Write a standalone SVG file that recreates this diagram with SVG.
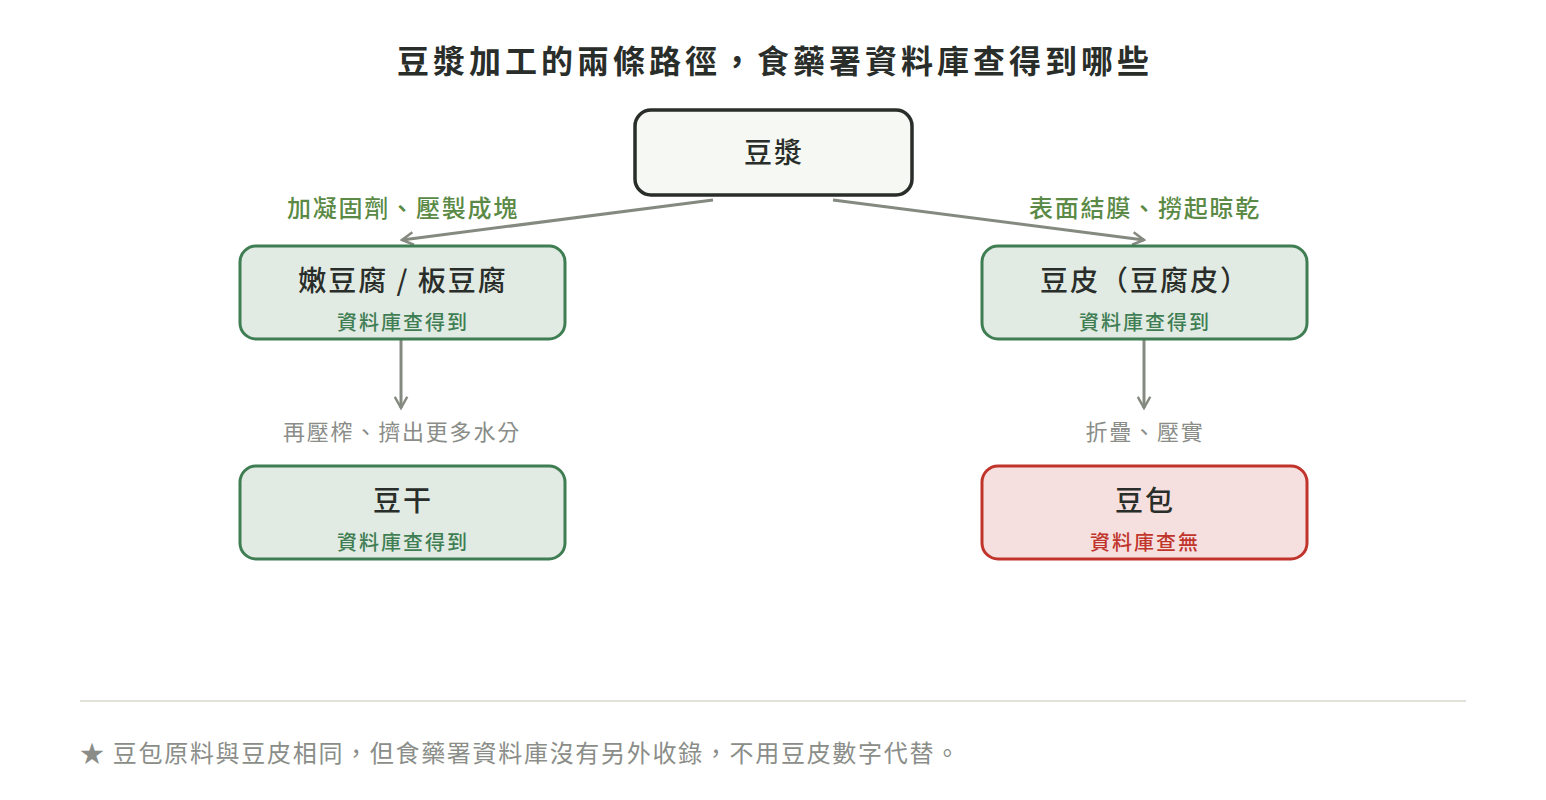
<svg xmlns="http://www.w3.org/2000/svg" width="1546" height="800" viewBox="0 0 1546 800">
<style>
text{font-family:"Noto Sans CJK TC","Noto Sans CJK SC",sans-serif;text-anchor:middle}
.t{font-size:32px;font-weight:700;fill:#2a2e2a;letter-spacing:4px}
.n{font-size:28px;font-weight:500;fill:#2a2e2a;letter-spacing:2px}
.s{font-size:20px;font-weight:500;letter-spacing:2px}
.g{fill:#3f7d53}
.r{fill:#c0342b}
.el{font-size:24px;font-weight:500;fill:#5a8a45;letter-spacing:1.8px}
.eg{font-size:22px;fill:#8a8d88;letter-spacing:1.8px}
.ok{fill:#e1ebe3;stroke:#3f7d53;stroke-width:3}
.no{fill:#f6e0df;stroke:#c0342b;stroke-width:3}
.c{stroke:#858a80;stroke-width:3;fill:none;marker-end:url(#a)}
</style>
<defs><marker id="a" viewBox="0 0 12 12" refX="10" refY="6" markerWidth="5" markerHeight="5" orient="auto" markerUnits="strokeWidth"><path d="M1,1 L10,6 L1,11" fill="none" stroke="#858a80" stroke-width="2"/></marker></defs>
<rect width="1546" height="800" fill="#fff"/>
<text class="t" x="775" y="73">豆漿加工的兩條路徑，食藥署資料庫查得到哪些</text>
<g id="connectors">
<line class="c" x1="713" y1="200" x2="402" y2="240"/>
<line class="c" x1="833" y1="200" x2="1144" y2="240"/>
<line class="c" x1="401" y1="340" x2="401" y2="408"/>
<line class="c" x1="1144" y1="340" x2="1144" y2="408"/>
<text class="el" x="403" y="217">加凝固劑、壓製成塊</text>
<text class="el" x="1145" y="217">表面結膜、撈起晾乾</text>
<text class="eg" x="402" y="440">再壓榨、擠出更多水分</text>
<text class="eg" x="1145" y="440">折疊、壓實</text>
</g>
<g id="soymilk"><rect x="635" y="110" width="277" height="85" rx="16" fill="#f6f8f3" stroke="#2a2e2a" stroke-width="3.5"/><text class="n" x="774" y="163">豆漿</text></g>
<g id="tofu"><rect class="ok" x="240" y="246" width="325" height="93" rx="16"/><text class="n" x="403" y="291">嫩豆腐 / 板豆腐</text><text class="s g" x="403" y="330">資料庫查得到</text></g>
<g id="skin"><rect class="ok" x="982" y="246" width="325" height="93" rx="16"/><text class="n" x="1145" y="291">豆皮（豆腐皮）</text><text class="s g" x="1145" y="330">資料庫查得到</text></g>
<g id="dried"><rect class="ok" x="240" y="466" width="325" height="93" rx="16"/><text class="n" x="403" y="511">豆干</text><text class="s g" x="403" y="550">資料庫查得到</text></g>
<g id="roll"><rect class="no" x="982" y="466" width="325" height="93" rx="16"/><text class="n" x="1145" y="511">豆包</text><text class="s r" x="1145" y="550">資料庫查無</text></g>
<line x1="80" y1="701" x2="1466" y2="701" stroke="#dfe2d8" stroke-width="2"/>
<text x="80" y="762" style="text-anchor:start;font-size:24px;fill:#8a8d88;letter-spacing:1.7px">★ 豆包原料與豆皮相同，但食藥署資料庫沒有另外收錄，不用豆皮數字代替。</text>
</svg>
